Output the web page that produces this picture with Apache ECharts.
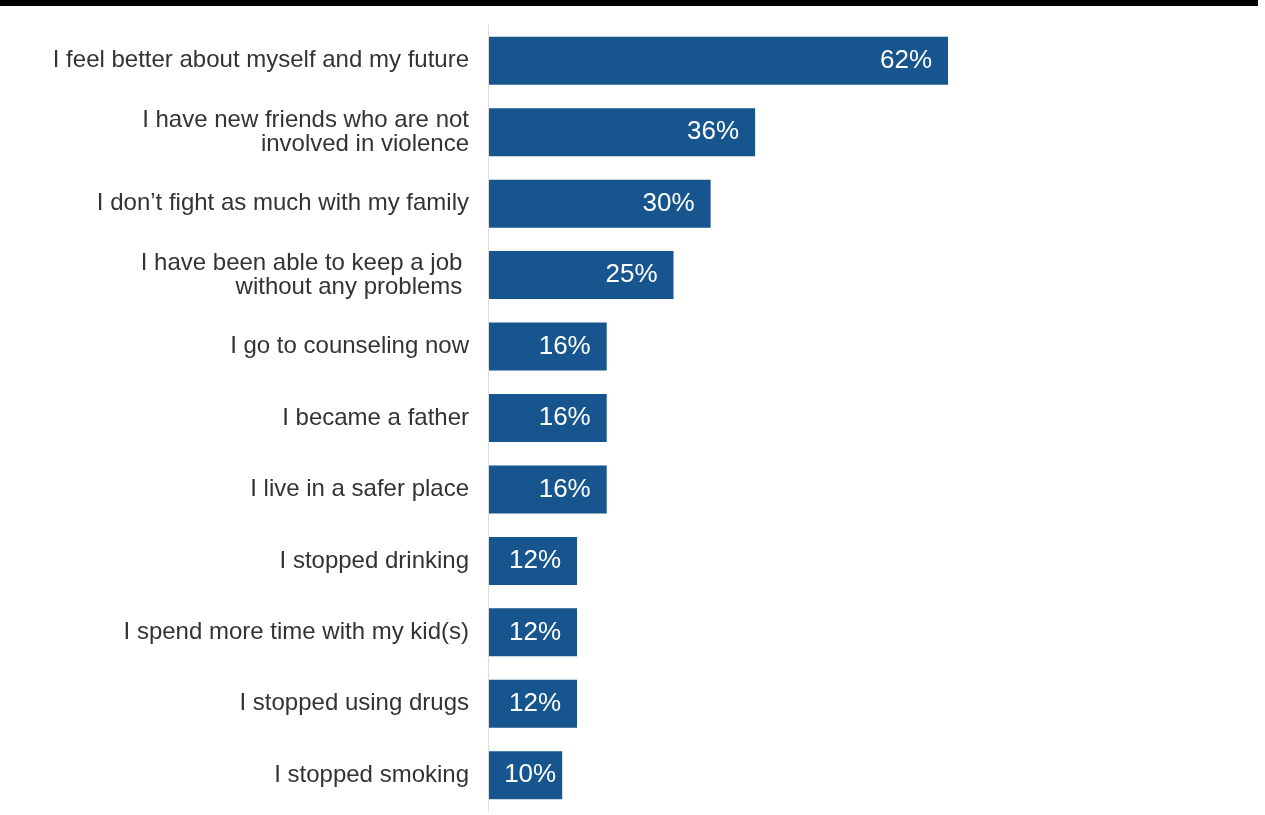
<!DOCTYPE html>
<html>
<head>
<meta charset="utf-8">
<script src="https://cdn.jsdelivr.net/npm/echarts@6/dist/echarts.min.js"></script>
<style>
html,body{margin:0;padding:0;background:#fff;}
#chart{width:1265px;height:815px;}
</style>
</head>
<body>
<div id="chart"></div>
<script>
var categories = [
  "I feel better about myself and my future",
  "I have new friends who are not\ninvolved in violence",
  "I don\u2019t fight as much with my family",
  "I have been able to keep a job \nwithout any problems ",
  "I go to counseling now",
  "I became a father",
  "I live in a safer place",
  "I stopped drinking",
  "I spend more time with my kid(s)",
  "I stopped using drugs",
  "I stopped smoking"
];
var values = [62, 36, 30, 25, 16, 16, 16, 12, 12, 12, 10];

var seriesData = values.map(function (v) {
  if (v < 11) {
    return {value: v, label: {distance: 6}};
  }
  return v;
});

var chart = echarts.init(document.getElementById('chart'), null, {renderer: 'canvas'});
chart.setOption({
  animation: false,
  backgroundColor: '#ffffff',
  graphic: [{
    type: 'rect',
    shape: {x: 0, y: 0, width: 1258, height: 6},
    style: {fill: '#000000'}
  }],
  grid: {left: 488, top: 25, width: 742, height: 786, containLabel: false},
  xAxis: {
    type: 'value', min: 0, max: 100,
    show: false
  },
  yAxis: {
    type: 'category',
    data: categories,
    inverse: true,
    z: 3,
    axisLine: {show: true, lineStyle: {color: '#dddddd', width: 1}},
    axisTick: {show: false},
    axisLabel: {
      color: '#333333',
      fontSize: 24,
      lineHeight: 24,
      margin: 19,
      align: 'right',
      fontFamily: '"Liberation Sans", Arial, Helvetica, sans-serif'
    },
    splitLine: {show: false}
  },
  series: [{
    type: 'bar',
    data: seriesData,
    barWidth: 48,
    itemStyle: {color: '#17558f'},
    label: {
      show: true,
      position: 'insideRight',
      distance: 16,
      color: '#ffffff',
      fontSize: 26,
      fontFamily: '"Liberation Sans", Arial, Helvetica, sans-serif',
      formatter: '{c}%'
    }
  }]
});
</script>
</body>
</html>
